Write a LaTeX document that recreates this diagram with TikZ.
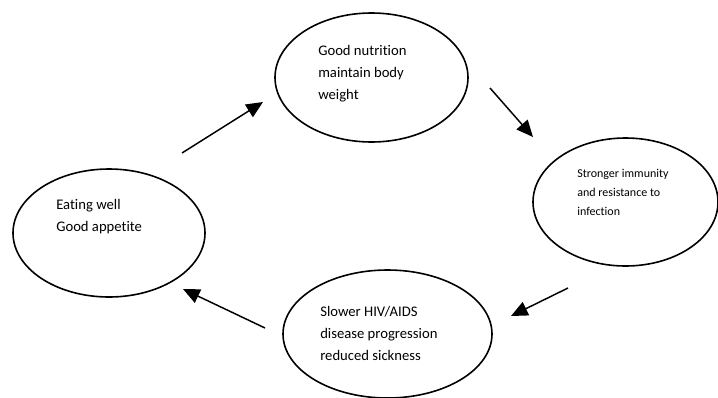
\documentclass[tikz,border=0pt]{standalone}
\usepackage{fontspec}
\setmainfont[Ligatures={NoCommon}]{Carlito}
\usetikzlibrary{shapes.geometric,arrows.meta}
\begin{document}
\begin{tikzpicture}[x=0.75pt,y=-0.75pt,
  bubble/.style={draw, ellipse, line width=1.2pt, inner sep=0pt},
  lbl/.style={anchor=west, align=left, inner sep=0pt, font=\fontsize{11}{16.5}\selectfont},
  lblsmall/.style={anchor=west, align=left, inner sep=0pt, font=\fontsize{9}{14.25}\selectfont},
  flow/.style={line width=1.1pt, -{Triangle[length=12.5pt,width=11pt]}}]
\useasboundingbox (0,0) rectangle (718,397);
% ellipses
\node[bubble, minimum width={193*0.75pt}, minimum height={129*0.75pt}] (e1) at (371.5,77.5) {};
\node[bubble, minimum width={185*0.75pt}, minimum height={128*0.75pt}] (e2) at (625.5,202) {};
\node[bubble, minimum width={209*0.75pt}, minimum height={128*0.75pt}] (e4) at (387.5,334) {};
\node[bubble, minimum width={192*0.75pt}, minimum height={128*0.75pt}] (e3) at (109,233) {};
% texts
\node[lbl] (t1) at (318,74) {Good nutrition\\maintain body\\weight};
\node[lblsmall] (t2) at (577,192) {Stronger immunity\\and resistance to\\infection};
\node[lbl] (t4) at (320,333) {Slower HIV/AIDS\\disease progression\\reduced sickness};
\node[lbl] (t3) at (56,217) {Eating well\\Good appetite};
% arrow end points
\coordinate (a1s) at (182,153); \coordinate (a1e) at (263,102);
\coordinate (a2s) at (490,88);  \coordinate (a2e) at (533,137);
\coordinate (a3s) at (568,288); \coordinate (a3e) at (511,316);
\coordinate (a4s) at (265,328); \coordinate (a4e) at (183,289);
\draw[flow] (a1s) -- (a1e);
\draw[flow] (a2s) -- (a2e);
\draw[flow] (a3s) -- (a3e);
\draw[flow] (a4s) -- (a4e);
\end{tikzpicture}
\end{document}
